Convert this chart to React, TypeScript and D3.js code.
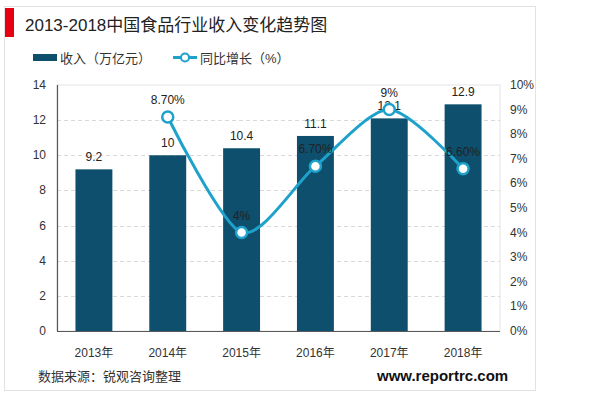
import { useEffect, useRef } from 'react';
import * as d3 from 'd3';

const years = ['2013年', '2014年', '2015年', '2016年', '2017年', '2018年'];
const revenue = [9.2, 10, 10.4, 11.1, 12.1, 12.9];
const growth: (number | null)[] = [null, 8.7, 4, 6.7, 9, 6.6];
const growthLabels = ['', '8.70%', '4%', '6.70%', '9%', '6.60%'];
const leftTicks = [0, 2, 4, 6, 8, 10, 12, 14];
const rightTicks = [0, 1, 2, 3, 4, 5, 6, 7, 8, 9, 10];

const BAR = '#0d4f6c';
const LINE = '#1ea2cb';
const FONT = 'Arial, "Liberation Sans", "Noto Sans CJK SC", sans-serif';

export default function App() {
  const svgRef = useRef<SVGSVGElement>(null);

  useEffect(() => {
    if (!svgRef.current) return;
    const svg = d3.select(svgRef.current);
    svg.selectAll('*').remove();

    const left = 57, right = 500, top = 85, bottom = 331;

    // frame
    svg.append('rect').attr('x', 4.5).attr('y', 6.5).attr('width', 531).attr('height', 384)
      .attr('fill', '#fff').attr('stroke', '#e2e2e2');
    svg.append('rect').attr('x', 5).attr('y', 8).attr('width', 9).attr('height', 29).attr('fill', '#e60012');
    svg.append('text').attr('x', 25).attr('y', 31).attr('font-size', 17).attr('fill', '#222')
      .attr('font-family', FONT).text('2013-2018中国食品行业收入变化趋势图');

    // legend
    svg.append('rect').attr('x', 33).attr('y', 54).attr('width', 24).attr('height', 7).attr('fill', BAR);
    svg.append('text').attr('x', 60).attr('y', 63).attr('font-size', 13).attr('fill', '#333')
      .attr('font-family', FONT).text('收入（万亿元）');
    svg.append('line').attr('x1', 173).attr('x2', 197).attr('y1', 57.5).attr('y2', 57.5)
      .attr('stroke', LINE).attr('stroke-width', 3);
    svg.append('circle').attr('cx', 185).attr('cy', 57.5).attr('r', 4).attr('fill', '#fff')
      .attr('stroke', LINE).attr('stroke-width', 2);
    svg.append('text').attr('x', 200).attr('y', 63).attr('font-size', 13).attr('fill', '#333')
      .attr('font-family', FONT).text('同比增长（%）');

    const x = d3.scaleBand().domain(years).range([left, right]).paddingInner(0.5).paddingOuter(0.25);
    const y = d3.scaleLinear().domain([0, 14]).range([bottom, top]);
    const y2 = d3.scaleLinear().domain([0, 10]).range([bottom, top]);

    // plot border + grid
    svg.append('rect').attr('x', left).attr('y', top).attr('width', right - left).attr('height', bottom - top)
      .attr('fill', 'none').attr('stroke', '#e4e4e4');
    svg.append('g').selectAll('line').data(leftTicks.slice(1, -1)).join('line')
      .attr('x1', left).attr('x2', right).attr('y1', d => Math.round(y(d)) + 0.5).attr('y2', d => Math.round(y(d)) + 0.5)
      .attr('stroke', '#d9d9d9').attr('stroke-dasharray', '4,3');

    // left axis labels
    svg.append('g').selectAll('text').data(leftTicks).join('text')
      .attr('x', 46).attr('y', d => y(d) + 4).attr('text-anchor', 'end')
      .attr('font-size', 12).attr('fill', '#333').attr('font-family', FONT).text(d => d);
    svg.append('g').selectAll('text').data(rightTicks).join('text')
      .attr('x', 510).attr('y', d => y2(d) + 4)
      .attr('font-size', 12).attr('fill', '#333').attr('font-family', FONT).text(d => `${d}%`);

    // bars
    svg.append('g').selectAll('rect').data(revenue).join('rect')
      .attr('x', (_, i) => x(years[i])!).attr('width', x.bandwidth())
      .attr('y', d => y(d)).attr('height', d => bottom - y(d)).attr('fill', BAR);
    svg.append('g').selectAll('text').data(revenue).join('text')
      .attr('x', (_, i) => x(years[i])! + x.bandwidth() / 2).attr('y', d => y(d) - 8)
      .attr('text-anchor', 'middle').attr('font-size', 12).attr('fill', '#222')
      .attr('font-family', FONT).text(d => d);

    // axes lines
    svg.append('line').attr('x1', left + 0.5).attr('x2', left + 0.5).attr('y1', top).attr('y2', bottom)
      .attr('stroke', '#595959').attr('stroke-width', 1.2);
    svg.append('line').attr('x1', left).attr('x2', right).attr('y1', bottom + 0.5).attr('y2', bottom + 0.5)
      .attr('stroke', '#595959').attr('stroke-width', 1.2);

    // x labels
    svg.append('g').selectAll('text').data(years).join('text')
      .attr('x', d => x(d)! + x.bandwidth() / 2).attr('y', 357).attr('text-anchor', 'middle')
      .attr('font-size', 12).attr('fill', '#333').attr('font-family', FONT).text(d => d);

    // growth line
    const pts = growth.map((g, i) => ({ g, i })).filter(p => p.g !== null) as { g: number; i: number }[];
    const cx = (i: number) => x(years[i])! + x.bandwidth() / 2;
    const line = d3.line<{ g: number; i: number }>()
      .x(d => cx(d.i)).y(d => y2(d.g)).curve(d3.curveCardinal.tension(0.2));
    svg.append('path').datum(pts).attr('d', line).attr('fill', 'none')
      .attr('stroke', LINE).attr('stroke-width', 3);
    svg.append('g').selectAll('circle').data(pts).join('circle')
      .attr('cx', d => cx(d.i)).attr('cy', d => y2(d.g)).attr('r', 5.5)
      .attr('fill', '#fff').attr('stroke', LINE).attr('stroke-width', 2.5);
    svg.append('g').selectAll('text').data(pts).join('text')
      .attr('x', d => cx(d.i)).attr('y', d => y2(d.g) - 13).attr('text-anchor', 'middle')
      .attr('font-size', 12).attr('fill', '#222').attr('font-family', FONT)
      .text(d => growthLabels[d.i]);

    // footer
    svg.append('text').attr('x', 38).attr('y', 381).attr('font-size', 13).attr('fill', '#333')
      .attr('font-family', FONT).text('数据来源：锐观咨询整理');
    svg.append('text').attr('x', 377).attr('y', 381).attr('font-size', 15).attr('font-weight', 'bold')
      .attr('fill', '#111').attr('font-family', FONT).text('www.reportrc.com');
  }, []);

  return (
    <svg ref={svgRef} width={600} height={395}
      style={{ position: 'absolute', left: 0, top: 0, background: '#fff' }} />
  );
}
